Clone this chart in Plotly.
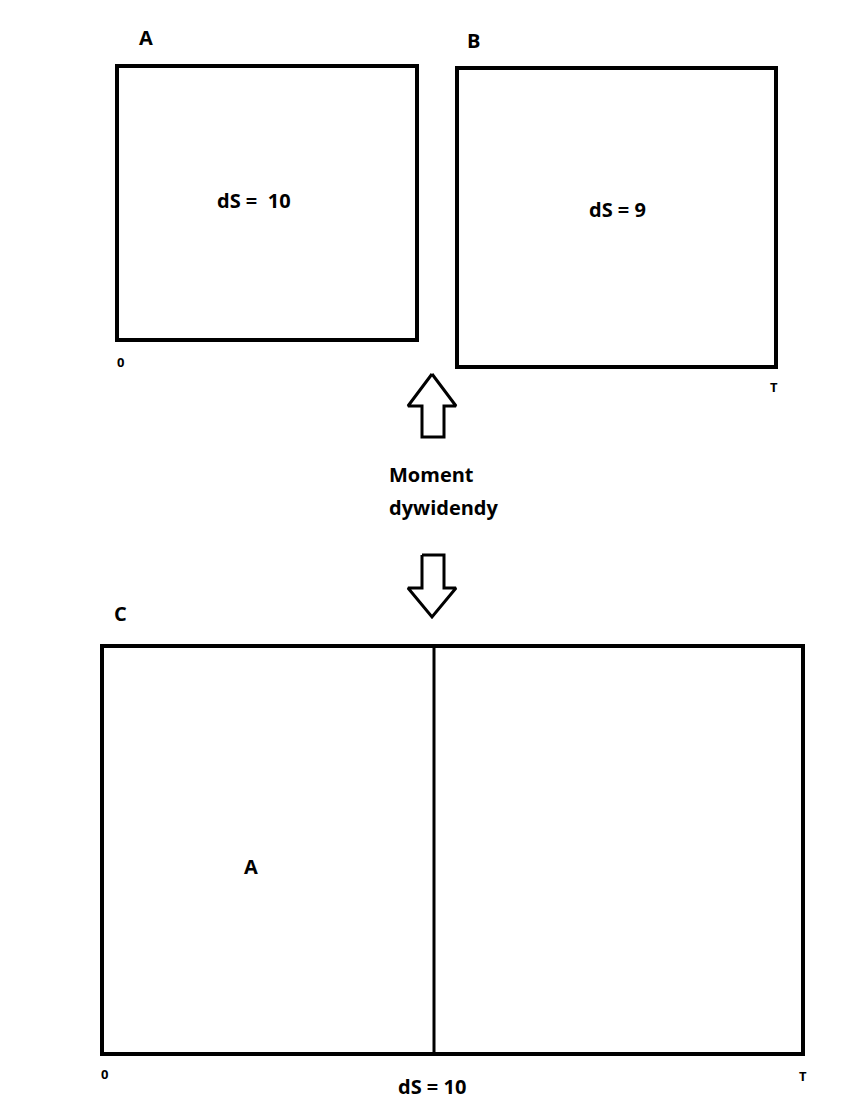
import plotly.graph_objects as go

W, H = 844, 1116

# boxes: (x0, y0, x1, y1) in page pixels, y downward
box_names = ["A", "B", "C"]
box_x0 = [109, 449, 94]
box_y0 = [58, 60, 638]
box_x1 = [409, 768, 795]
box_y1 = [332, 359, 1046]
divider_x = 426

# arrows: outline polygons
arrow_up_x = [424, 448, 436, 436, 414, 414, 400, 424]
arrow_up_y = [366, 398, 398, 429, 429, 398, 398, 366]
arrow_down_x = [414, 436, 436, 448, 424, 400, 414, 414]
arrow_down_y = [547, 547, 580, 580, 609, 580, 580, 547]

labels = ["A", "B", "dS =  10", "dS = 9", "0", "T", "Moment", "dywidendy",
          "C", "A", "0", "T", "dS = 10"]
label_x = [138, 465, 246, 609, 112, 766, 379, 379, 112, 243, 96, 795, 424]
label_y = [29, 32, 192, 201, 354, 379, 466, 499, 605, 858, 1066, 1068, 1078]
label_size = [20, 20, 20, 20, 13, 13, 20, 20, 20, 20, 13, 13, 20]
label_anchor = ["center"] * 6 + ["left", "left"] + ["center"] * 5

fig = go.Figure()

for ax, ay in [(arrow_up_x, arrow_up_y), (arrow_down_x, arrow_down_y)]:
    fig.add_trace(go.Scatter(x=ax, y=ay, mode="lines",
                             line=dict(color="black", width=3), hoverinfo="skip"))

shapes = []
for i in range(len(box_names)):
    shapes.append(dict(type="rect", xref="x", yref="y",
                       x0=box_x0[i], y0=box_y0[i], x1=box_x1[i], y1=box_y1[i],
                       line=dict(color="black", width=4)))
shapes.append(dict(type="line", xref="x", yref="y", x0=divider_x, x1=divider_x,
                   y0=box_y0[2], y1=box_y1[2], line=dict(color="black", width=3)))

annotations = [dict(x=x, y=y, text=f"<b>{t}</b>", showarrow=False, xanchor=a,
                    yanchor="middle", font=dict(family="Open Sans", size=s, color="black"))
               for t, x, y, s, a in zip(labels, label_x, label_y, label_size, label_anchor)]

fig.update_layout(
    width=W, height=H,
    margin=dict(l=0, r=0, t=0, b=0),
    paper_bgcolor="white", plot_bgcolor="white",
    showlegend=False,
    shapes=shapes, annotations=annotations,
    xaxis=dict(range=[0, W], visible=False, fixedrange=True),
    yaxis=dict(range=[H, 0], visible=False, fixedrange=True),
)

fig.write_html("out.html")
